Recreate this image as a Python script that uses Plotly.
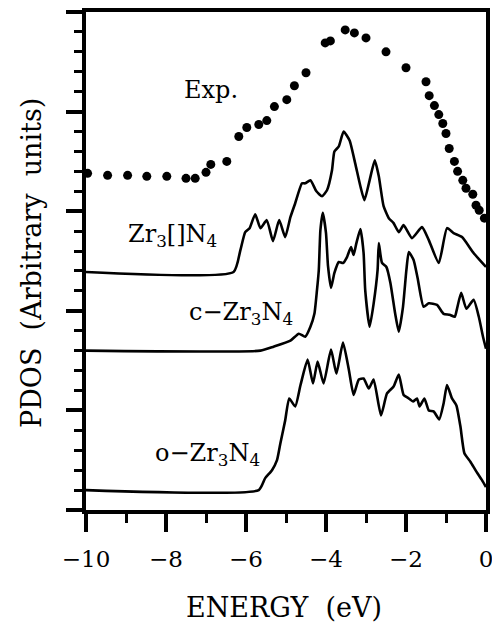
import plotly.graph_objects as go

# Experimental data (dots)
exp_E = [-9.96, -9.46, -8.96, -8.48, -7.98, -7.50, -7.27, -7.0, -6.88, -6.48,
         -6.18, -5.98, -5.68, -5.48, -5.29, -4.98, -4.79, -4.5, -4.02, -3.89,
         -3.52, -3.29, -3.0, -2.5, -2.0, -1.5, -1.42, -1.29, -1.18, -1.08,
         -1.0, -0.92, -0.79, -0.71, -0.58, -0.5, -0.33, -0.25, -0.17, -0.04]
exp_V = [3.38, 3.36, 3.36, 3.35, 3.35, 3.33, 3.33, 3.39, 3.47, 3.50,
         3.75, 3.84, 3.87, 3.91, 4.05, 4.12, 4.26, 4.39, 4.69, 4.71,
         4.82, 4.79, 4.74, 4.60, 4.44, 4.30, 4.16, 4.06, 3.97, 3.88,
         3.78, 3.63, 3.50, 3.40, 3.31, 3.23, 3.17, 3.06, 3.01, 2.93]

# Zr3[]N4
zv_E = [-10, -6.31, -6.14, -6.02, -5.91, -5.77, -5.64, -5.48, -5.325, -5.17,
        -5.02, -4.89, -4.77, -4.6, -4.52, -4.39, -4.24, -4.1, -3.975, -3.85,
        -3.79, -3.68, -3.56, -3.41, -3.27, -3.14, -3.04, -2.91, -2.78, -2.68,
        -2.56, -2.43, -2.31, -2.18, -2.06, -1.85, -1.6, -1.43, -1.18, -0.975,
        -0.81, -0.6, -0.31, 0]
zv_V = [2.39, 2.39, 2.61, 2.79, 2.83, 2.97, 2.83, 2.91, 2.70, 2.91,
        2.74, 2.94, 3.08, 3.28, 3.28, 3.31, 3.20, 3.15, 3.21, 3.41,
        3.60, 3.65, 3.80, 3.71, 3.48, 3.25, 3.11, 3.31, 3.51, 3.35,
        3.05, 2.93, 2.88, 2.79, 2.86, 2.73, 2.84, 2.71, 2.48, 2.83,
        2.78, 2.74, 2.58, 2.44]

# c-Zr3N4
c_E = [-10, -5.64, -5.31, -4.89, -4.68, -4.52, -4.39, -4.29, -4.225, -4.18,
       -4.14, -4.08, -4.0, -3.95, -3.875, -3.79, -3.68, -3.575, -3.475, -3.375,
       -3.31, -3.24, -3.14, -3.06, -3.02, -2.91, -2.81, -2.71, -2.68, -2.6,
       -2.49, -2.39, -2.27, -2.18, -2.075, -1.99, -1.93, -1.81, -1.71, -1.56,
       -1.43, -1.225, -1.06, -0.91, -0.78, -0.725, -0.62, -0.49, -0.31, -0.18,
       -0.075, 0]
c_V = [1.60, 1.60, 1.64, 1.70, 1.77, 1.74, 1.84, 1.97, 2.21, 2.41,
       2.81, 2.985, 2.78, 2.45, 2.23, 2.38, 2.49, 2.48, 2.54, 2.64,
       2.56, 2.68, 2.82, 2.58, 2.21, 1.84, 2.07, 2.41, 2.68, 2.48,
       2.44, 2.28, 1.97, 1.79, 2.04, 2.41, 2.59, 2.51, 2.33, 2.04,
       2.075, 2.06, 1.97, 1.96, 1.94, 2.02, 2.18, 2.02, 2.11, 1.94,
       1.74, 1.62]

# o-Zr3N4
o_E = [-10, -5.68, -5.52, -5.35, -5.225, -5.14, -5.02, -4.92, -4.77, -4.64,
       -4.46, -4.325, -4.21, -4.06, -3.875, -3.74, -3.575, -3.43, -3.31, -3.18,
       -3.06, -2.93, -2.81, -2.625, -2.475, -2.31, -2.18, -2.06, -1.93, -1.825,
       -1.725, -1.66, -1.54, -1.43, -1.31, -1.17, -1.06, -0.975, -0.85, -0.74,
       -0.64, -0.54, -0.39, -0.24, -0.1, 0]
o_V = [0.20, 0.20, 0.32, 0.40, 0.50, 0.67, 0.90, 1.12, 1.04, 1.25,
       1.51, 1.27, 1.49, 1.27, 1.61, 1.37, 1.68, 1.41, 1.155, 1.31,
       1.32, 1.22, 1.31, 0.95, 1.17, 1.24, 1.36, 1.155, 1.12, 1.09,
       1.12, 1.04, 1.12, 1.00, 0.99, 0.91, 1.07, 1.255, 1.12, 1.05,
       0.84, 0.57, 0.485, 0.385, 0.30, 0.23]

labels = ["Exp.", "Zr<sub>3</sub>[]N<sub>4</sub>", "c\u2212Zr<sub>3</sub>N<sub>4</sub>",
          "o\u2212Zr<sub>3</sub>N<sub>4</sub>"]
label_E = [-6.875, -7.83, -6.125, -6.975]
label_V = [4.22, 2.76, 1.97, 0.56]

x_ticks = [-10, -8, -6, -4, -2, 0]
x_ticklabels = ["\u221210", "\u22128", "\u22126", "\u22124", "\u22122", "0"]

FONT = "DejaVu Serif"
line_style = dict(color="black", width=2.6, shape="spline", smoothing=0.5)

fig = go.Figure()
fig.add_trace(go.Scatter(x=exp_E, y=exp_V, mode="markers",
                         marker=dict(color="black", size=9), cliponaxis=False))
fig.add_trace(go.Scatter(x=zv_E, y=zv_V, mode="lines", line=line_style))
fig.add_trace(go.Scatter(x=c_E, y=c_V, mode="lines", line=line_style))
fig.add_trace(go.Scatter(x=o_E, y=o_V, mode="lines", line=line_style))

for t, xe, yv in zip(labels, label_E, label_V):
    fig.add_annotation(x=xe, y=yv, text=t, showarrow=False,
                       xanchor="center", yanchor="middle",
                       font=dict(family=FONT, size=24, color="black"))

fig.add_annotation(xref="paper", yref="paper", x=-0.135, y=0.496,
                   xanchor="center", yanchor="middle",
                   text="PDOS\u00a0 (Arbitrary\u00a0 units)", textangle=-90,
                   showarrow=False, font=dict(family=FONT, size=27, color="black"))
fig.add_annotation(xref="paper", yref="paper", x=0.495, y=-0.195,
                   xanchor="center", yanchor="middle",
                   text="ENERGY\u00a0 (eV)", showarrow=False,
                   font=dict(family=FONT, size=27, color="black"))

fig.update_layout(
    template="none",
    width=492, height=624,
    margin=dict(l=86, r=6, t=12, b=114, autoexpand=False),
    paper_bgcolor="white", plot_bgcolor="white",
    showlegend=False,
    font=dict(family=FONT, color="black"),
)
fig.update_xaxes(
    range=[-10, 0], tickvals=x_ticks, ticktext=x_ticklabels,
    ticks="outside", ticklen=18, tickwidth=3.5, tickcolor="black",
    minor=dict(dtick=1, tick0=0, ticks="outside", ticklen=9, tickwidth=3, tickcolor="black"),
    showline=True, linewidth=3.5, linecolor="black", mirror=True,
    showgrid=False, zeroline=False, automargin=False,
    tickfont=dict(family=FONT, size=23, color="black"),
    ticklabelstandoff=8, ticklabeloverflow="allow",
)
fig.update_yaxes(
    range=[0, 5], dtick=1, tick0=0, showticklabels=False,
    ticks="outside", ticklen=16, tickwidth=3.5, tickcolor="black",
    minor=dict(dtick=0.2, tick0=0, ticks="outside", ticklen=8, tickwidth=3, tickcolor="black"),
    showline=True, linewidth=3.5, linecolor="black", mirror=True,
    showgrid=False, zeroline=False, automargin=False,
)

fig.write_html(
    "out.html",
    config={"displayModeBar": False},
    post_script="document.body.style.margin='0';document.body.style.overflow='hidden';",
)
